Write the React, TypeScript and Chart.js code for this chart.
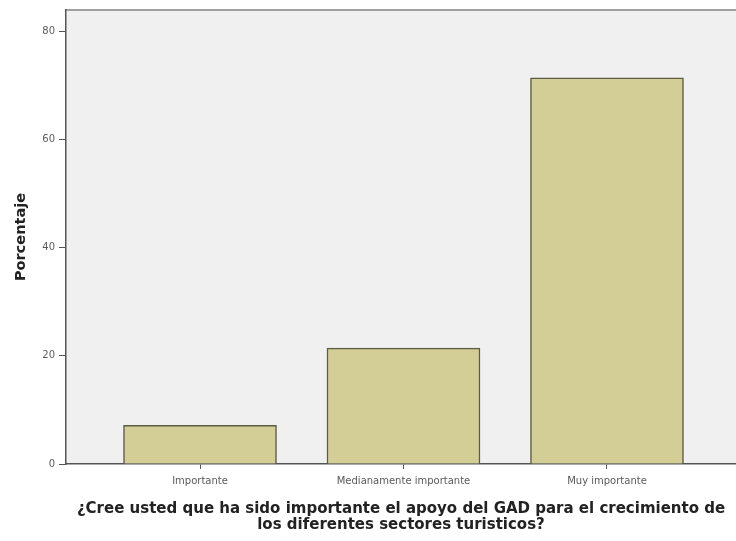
import React, { useEffect, useRef } from "react";
import { Chart, registerables } from "chart.js";

Chart.register(...registerables);

const categories = ["Importante", "Medianamente importante", "Muy importante"];
const percentages = [7.14, 21.43, 71.43];
const yTicks = [0, 20, 40, 60, 80];
const xTitleLines = [
  "¿Cree usted que ha sido importante el apoyo del GAD para el crecimiento de",
  "los diferentes sectores turisticos?",
];
const yTitle = "Porcentaje";

const plotBackground = {
  id: "plotBackground",
  beforeDraw(chart: any) {
    const { ctx, chartArea } = chart;
    ctx.save();
    ctx.fillStyle = "#f0f0f0";
    ctx.fillRect(chartArea.left, chartArea.top, chartArea.right - chartArea.left, chartArea.bottom - chartArea.top);
    ctx.strokeStyle = "#a0a0a0";
    ctx.lineWidth = 2;
    ctx.beginPath();
    ctx.moveTo(chartArea.left, chartArea.top);
    ctx.lineTo(chartArea.right, chartArea.top);
    ctx.stroke();
    ctx.restore();
  },
};

export default function App() {
  const ref = useRef<HTMLCanvasElement>(null);
  useEffect(() => {
    document.body.style.margin = "0";
    const chart = new Chart(ref.current!, {
      type: "bar",
      data: {
        datasets: [
          {
            data: categories.map((_, i) => ({ x: i + 1, y: percentages[i] })) as any,
            backgroundColor: "#d3ce96",
            borderColor: "#5c5b45",
            borderWidth: 1.5,
            barThickness: 153,
          },
        ],
      },
      options: {
        animation: false,
        responsive: false,
        maintainAspectRatio: false,
        layout: { padding: { top: 10, right: 0, left: 0, bottom: 0 } },
        plugins: { legend: { display: false }, tooltip: { enabled: false } },
        scales: {
          x: {
            type: "linear",
            offset: false,
            bounds: "ticks",
            min: 0.3415,
            max: 3.634,
            afterBuildTicks: (scale: any) => {
              scale.ticks = categories.map((_, i) => ({ value: i + 1 }));
            },
            afterFit: (scale: any) => {
              scale.height = 77;
            },
            ticks: {
              autoSkip: false,
              maxRotation: 0,
              padding: 6,
              color: "#5a5a5a",
              font: { family: "DejaVu Sans", size: 10 },
              callback: (v: any) => categories[Math.round(v) - 1] ?? "",
            },
            grid: { display: true, drawOnChartArea: false, offset: false, tickLength: 5, color: "#555", lineWidth: 1 },
            border: { display: true, color: "#555", width: 1.5 },
            title: {
              display: true,
              text: xTitleLines,
              color: "#222",
              font: { family: "DejaVu Sans", size: 15, weight: "bold", lineHeight: 1.07 },
              padding: { top: 0, bottom: 8 },
            },
          },
          y: {
            min: 0,
            max: 84,
            afterBuildTicks: (scale: any) => {
              scale.ticks = yTicks.map((v) => ({ value: v }));
            },
            afterFit: (scale: any) => {
              scale.width = 66;
            },
            ticks: {
              padding: 4,
              color: "#5a5a5a",
              font: { family: "DejaVu Sans", size: 10 },
            },
            grid: { display: true, drawOnChartArea: false, tickLength: 7, color: "#555", lineWidth: 1 },
            border: { display: true, color: "#555", width: 1.5 },
            title: {
              display: true,
              text: yTitle,
              color: "#222",
              font: { family: "DejaVu Sans", size: 14.5, weight: "bold" },
              padding: { top: 13, bottom: 0 },
            },
          },
        },
      },
      plugins: [plotBackground],
    });
    return () => chart.destroy();
  }, []);
  return (
    <div style={{ width: 736, height: 541 }}>
      <canvas ref={ref} width={736} height={541} style={{ display: "block" }} />
    </div>
  );
}
